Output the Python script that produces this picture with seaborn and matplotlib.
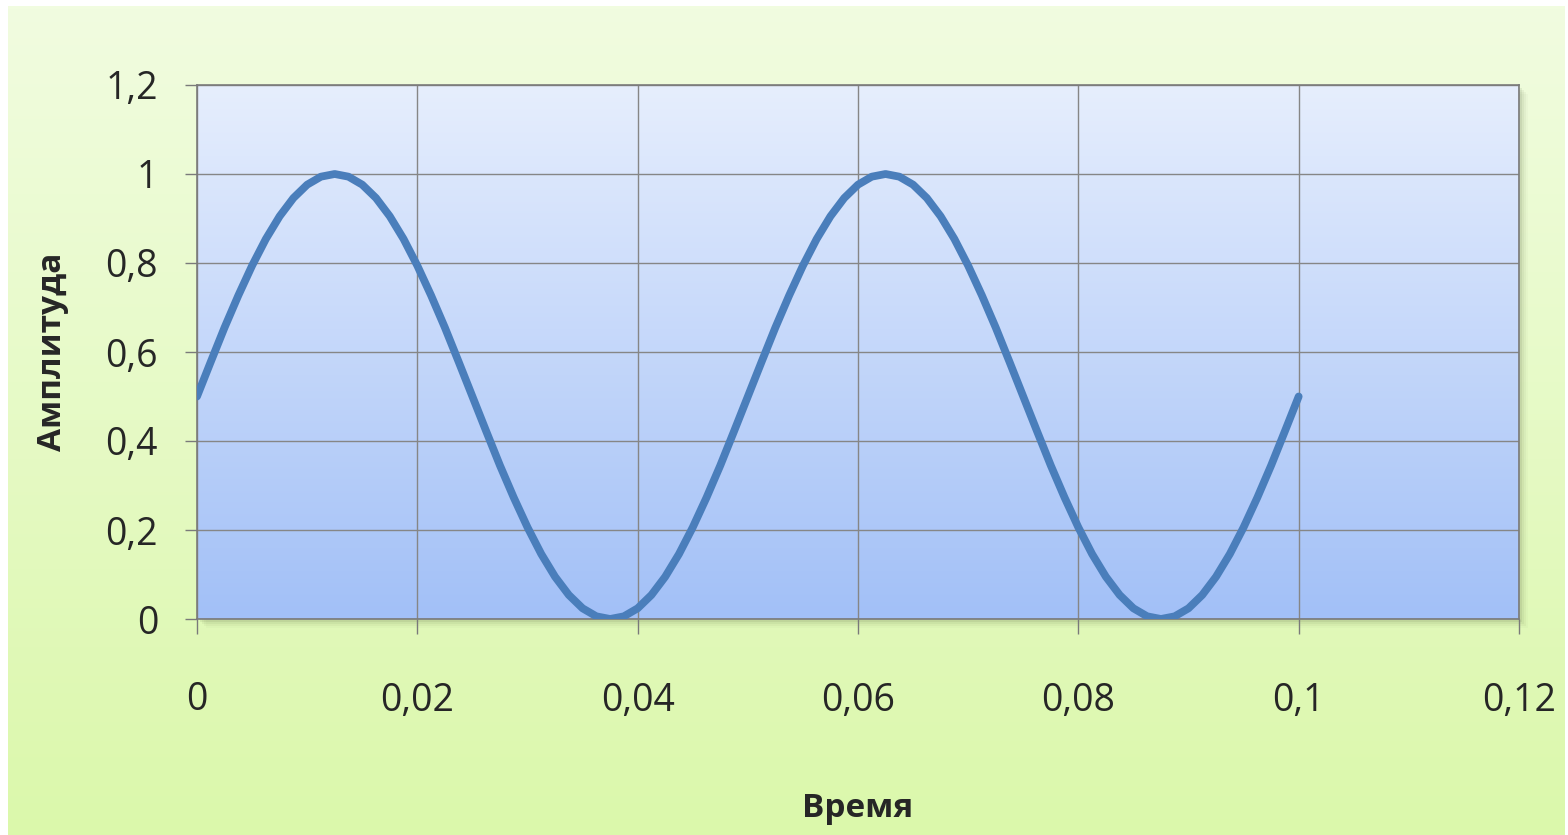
import numpy as np
import pandas as pd
import matplotlib
matplotlib.use("Agg")
import matplotlib.pyplot as plt
import seaborn as sns
from matplotlib.colors import LinearSegmentedColormap
from matplotlib.patches import Rectangle

# values, step 0.00125
time = [0.0, 0.00125, 0.0025, 0.00375, 0.005, 0.00625, 0.0075, 0.00875, 0.01, 0.01125,
        0.0125, 0.01375, 0.015, 0.01625, 0.0175, 0.01875, 0.02, 0.02125, 0.0225, 0.02375,
        0.025, 0.02625, 0.0275, 0.02875, 0.03, 0.03125, 0.0325, 0.03375, 0.035, 0.03625,
        0.0375, 0.03875, 0.04, 0.04125, 0.0425, 0.04375, 0.045, 0.04625, 0.0475, 0.04875,
        0.05, 0.05125, 0.0525, 0.05375, 0.055, 0.05625, 0.0575, 0.05875, 0.06, 0.06125,
        0.0625, 0.06375, 0.065, 0.06625, 0.0675, 0.06875, 0.07, 0.07125, 0.0725, 0.07375,
        0.075, 0.07625, 0.0775, 0.07875, 0.08, 0.08125, 0.0825, 0.08375, 0.085, 0.08625,
        0.0875, 0.08875, 0.09, 0.09125, 0.0925, 0.09375, 0.095, 0.09625, 0.0975, 0.09875,
        0.1]
amplitude = [0.5, 0.578, 0.655, 0.727, 0.794, 0.854, 0.905, 0.946, 0.976, 0.994,
             1.0, 0.994, 0.976, 0.946, 0.905, 0.854, 0.794, 0.727, 0.655, 0.578,
             0.5, 0.422, 0.345, 0.273, 0.206, 0.146, 0.095, 0.054, 0.024, 0.006,
             0.0, 0.006, 0.024, 0.054, 0.095, 0.146, 0.206, 0.273, 0.345, 0.422,
             0.5, 0.578, 0.655, 0.727, 0.794, 0.854, 0.905, 0.946, 0.976, 0.994,
             1.0, 0.994, 0.976, 0.946, 0.905, 0.854, 0.794, 0.727, 0.655, 0.578,
             0.5, 0.422, 0.345, 0.273, 0.206, 0.146, 0.095, 0.054, 0.024, 0.006,
             0.0, 0.006, 0.024, 0.054, 0.095, 0.146, 0.206, 0.273, 0.345, 0.422,
             0.5]
x_ticks = [0, 0.02, 0.04, 0.06, 0.08, 0.1, 0.12]
x_labels = ["0", "0,02", "0,04", "0,06", "0,08", "0,1", "0,12"]
y_ticks = [0, 0.2, 0.4, 0.6, 0.8, 1.0, 1.2]
y_labels = ["0", "0,2", "0,4", "0,6", "0,8", "1", "1,2"]

df = pd.DataFrame({"Время": time, "Амплитуда": amplitude})

sns.set_style("white")
plt.rcParams["font.family"] = ["Open Sans", "DejaVu Sans"]

fig = plt.figure(figsize=(15.68, 8.35), dpi=100)
fig.patch.set_facecolor("white")

# green gradient background of the chart area
bg = fig.add_axes([8 / 1568, 0, 1557 / 1568, 829 / 835], zorder=0)
green = LinearSegmentedColormap.from_list("g", ["#f1fce0", "#dbf8ab"])
bg.imshow(np.linspace(0, 1, 256).reshape(-1, 1), cmap=green, aspect="auto",
          extent=[0, 1, 0, 1], origin="upper")
bg.set_axis_off()

ax = fig.add_axes([197 / 1568, 216 / 835, 1322 / 1568, 534 / 835], zorder=2)

# soft shadow of plot area
for i, a in enumerate([0.10, 0.07, 0.05, 0.03]):
    off = 3 + i * 2
    fig.patches.append(Rectangle((197 / 1568 + off / 1568, 216 / 835 - off / 835),
                                 1322 / 1568, 534 / 835, transform=fig.transFigure,
                                 facecolor="#5a6a40", alpha=a, edgecolor="none", zorder=1))

blue = LinearSegmentedColormap.from_list("b", ["#e6eefd", "#a2c0f7"])
ax.imshow(np.linspace(0, 1, 256).reshape(-1, 1), cmap=blue, aspect="auto",
          extent=[0, 0.12, 0, 1.2], origin="upper", zorder=0)

sns.lineplot(data=df, x="Время", y="Амплитуда", ax=ax, color="#4a7ebb",
             linewidth=5.6, zorder=3, solid_capstyle="round", solid_joinstyle="round")

ax.set_xlim(0, 0.12)
ax.set_ylim(0, 1.2)
ax.set_aspect("auto")
ax.set_xticks(x_ticks)
ax.set_xticklabels(x_labels)
ax.set_yticks(y_ticks)
ax.set_yticklabels(y_labels)
ax.grid(True, color="#868686", linewidth=1.0, zorder=1)
ax.set_axisbelow(True)
for s in ax.spines.values():
    s.set_color("#7a7a7a")
    s.set_linewidth(1.2)

ax.tick_params(axis="y", direction="out", length=9, width=1, color="#7a7a7a",
               labelsize=27, pad=19, left=True)
ax.tick_params(axis="x", direction="out", length=11, width=1, color="#7a7a7a",
               labelsize=27, pad=34, bottom=True)

ax.set_xlabel("Время", fontsize=24, fontweight="bold", labelpad=52)
ax.set_ylabel("Амплитуда", fontsize=24, fontweight="bold", labelpad=26)

plt.savefig("out.png", dpi=100)
